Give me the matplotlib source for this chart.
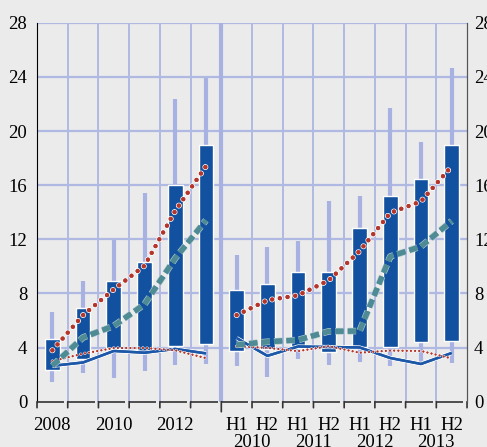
import numpy as np
import matplotlib
matplotlib.use("Agg")
import matplotlib.pyplot as plt
import matplotlib.patheffects as pe

plt.rcParams['font.family'] = ['Liberation Serif', 'DejaVu Serif']
plt.rcParams['lines.scale_dashes'] = False

# annual block, 2008-2013
years = ['2008', '2009', '2010', '2011', '2012', '2013']
year_labels = ['2008', '', '2010', '', '2012', '']
yr_box_top = [4.6, 6.9, 8.9, 10.35, 16.0, 19.0]
yr_box_bot = [2.37, 3.15, 3.95, 3.75, 4.12, 4.24]
yr_hi = [6.6, 8.9, 11.95, 15.45, 22.35, 23.95]
yr_lo = [1.48, 2.15, 1.75, 2.27, 2.7, 2.78]
yr_red = [3.8, 6.4, 8.3, 10.05, 14.1, 17.4]
yr_teal = [2.65, 4.75, 5.6, 7.2, 10.6, 13.4]
yr_blue = [2.65, 2.9, 3.75, 3.62, 3.9, 3.57]
yr_thin = [3.0, 3.55, 3.97, 3.97, 3.8, 3.22]

# half-year block, H1 2010 - H2 2013
halves = ['H1', 'H2', 'H1', 'H2', 'H1', 'H2', 'H1', 'H2']
half_years = ['2010', '2011', '2012', '2013']
hf_box_top = [8.25, 8.7, 9.56, 9.62, 12.82, 15.17, 16.45, 19.0]
hf_box_bot = [3.75, 3.9, 4.0, 3.64, 4.06, 4.06, 4.4, 4.45]
hf_hi = [10.84, 11.43, 11.84, 14.83, 15.22, 21.7, 19.18, 24.68]
hf_lo = [2.66, 1.8, 3.12, 2.7, 2.96, 2.66, 2.9, 2.88]
hf_red = [6.4, 7.5, 7.86, 8.97, 11.12, 13.95, 14.8, 17.4]
hf_teal = [4.2, 4.43, 4.56, 5.2, 5.22, 10.73, 11.47, 13.35]
hf_blue = [4.7, 3.39, 4.08, 4.04, 4.01, 3.23, 2.79, 3.6]
hf_thin = [4.1, 3.98, 3.74, 4.1, 3.62, 3.78, 3.75, 3.2]

bg = '#ebebeb'
grid_c = '#b0b9e2'
box_c = '#1250a0'
whisk_c = '#a7b2e3'
red_c = '#b5372b'
teal_c = '#4f8b94'
line_c = '#1d58a8'
fs = 13.5

fig = plt.figure(figsize=(4.87, 4.47), dpi=100, facecolor=bg)
ax = fig.add_axes([0.076, 0.1013, 0.883, 0.8478], facecolor=bg)

n_yr = len(years)
n_hf = len(halves)
x_yr = np.arange(n_yr) + 0.5
x_hf = np.arange(n_hf) + n_yr + 0.5
total = n_yr + n_hf

# grid
for v in range(4, 29, 4):
    ax.axhline(v, color=grid_c, lw=1.6, zorder=0)
for i in range(1, total):
    if i == n_yr:
        ax.axvline(i, color=whisk_c, lw=3, zorder=0)
    else:
        ax.axvline(i, color=grid_c, lw=1.4, zorder=0)

bw = 0.48


def draw_block(x, top, bot, hi, lo, red, teal, blue, thin):
    ax.vlines(x, lo, hi, color=whisk_c, lw=3, zorder=1)
    ax.bar(x, np.array(top) - np.array(bot), bottom=bot, width=bw,
           color=box_c, edgecolor='white', linewidth=1, zorder=2)
    ax.plot(x, blue, color=line_c, lw=1.8, zorder=3, solid_capstyle='butt',
            path_effects=[pe.withStroke(linewidth=3.0, foreground='white'), pe.Normal()])
    ax.plot(x, thin, color=red_c, lw=1.5, zorder=4, dash_capstyle='round',
            linestyle=(0, (0.01, 3.0)),
            path_effects=[pe.withStroke(linewidth=2.4, foreground='white'), pe.Normal()])
    ax.plot(x, teal, color=teal_c, lw=3.6, zorder=5, dash_capstyle='butt',
            linestyle=(0, (6.0, 3.0)),
            path_effects=[pe.withStroke(linewidth=4.8, foreground='#a9c6c9'), pe.Normal()])
    ax.plot(x, red, color=red_c, lw=3.1, zorder=6, dash_capstyle='round',
            linestyle=(0, (0.01, 5.6)),
            path_effects=[pe.withStroke(linewidth=4.3, foreground='white'), pe.Normal()])


draw_block(x_yr, yr_box_top, yr_box_bot, yr_hi, yr_lo, yr_red, yr_teal, yr_blue, yr_thin)
draw_block(x_hf, hf_box_top, hf_box_bot, hf_hi, hf_lo, hf_red, hf_teal, hf_blue, hf_thin)

ax.set_xlim(0, total)
ax.set_ylim(0, 28)

# axes frame
for s in ['top', 'bottom']:
    ax.spines[s].set_visible(False)
ax.spines['left'].set_color('black')
ax.spines['right'].set_color('#555555')
ax.set_yticks(range(0, 29, 4))
ax.tick_params(axis='y', length=0, labelsize=fs, pad=7)

ax2 = ax.twinx()
ax2.set_ylim(0, 28)
ax2.set_yticks(range(0, 29, 4))
ax2.tick_params(axis='y', length=0, labelsize=fs, pad=5)
for s in ['top', 'bottom', 'left']:
    ax2.spines[s].set_visible(False)
ax2.spines['right'].set_color('#555555')

# segmented bottom axis with ticks
ax.set_xticks([])
for i in range(total):
    ax.plot([i, i + 0.88], [0, 0], color='#333333', lw=1.2, clip_on=False, zorder=7,
            solid_capstyle='butt')
for i in range(total + 1):
    tl = 10 if i == n_yr else 6
    ax.annotate('', xy=(i, 0), xycoords='data', xytext=(0, -tl * 0.72),
                textcoords='offset points',
                arrowprops=dict(arrowstyle='-', color='#333333', lw=1.2,
                                shrinkA=0, shrinkB=0))

for x, lab in zip(x_yr, year_labels):
    if lab:
        ax.annotate(lab, xy=(x, 0), xycoords=('data', 'axes fraction'),
                    xytext=(0, -11), textcoords='offset points',
                    ha='center', va='top', fontsize=fs)
for x, lab in zip(x_hf, halves):
    ax.annotate(lab, xy=(x, 0), xycoords=('data', 'axes fraction'),
                xytext=(0, -11), textcoords='offset points',
                ha='center', va='top', fontsize=fs)
for k, lab in enumerate(half_years):
    ax.annotate(lab, xy=(n_yr + 2 * k + 1, 0), xycoords=('data', 'axes fraction'),
                xytext=(0, -23.5), textcoords='offset points',
                ha='center', va='top', fontsize=fs)

fig.savefig('out.png', dpi=100, facecolor=bg)
